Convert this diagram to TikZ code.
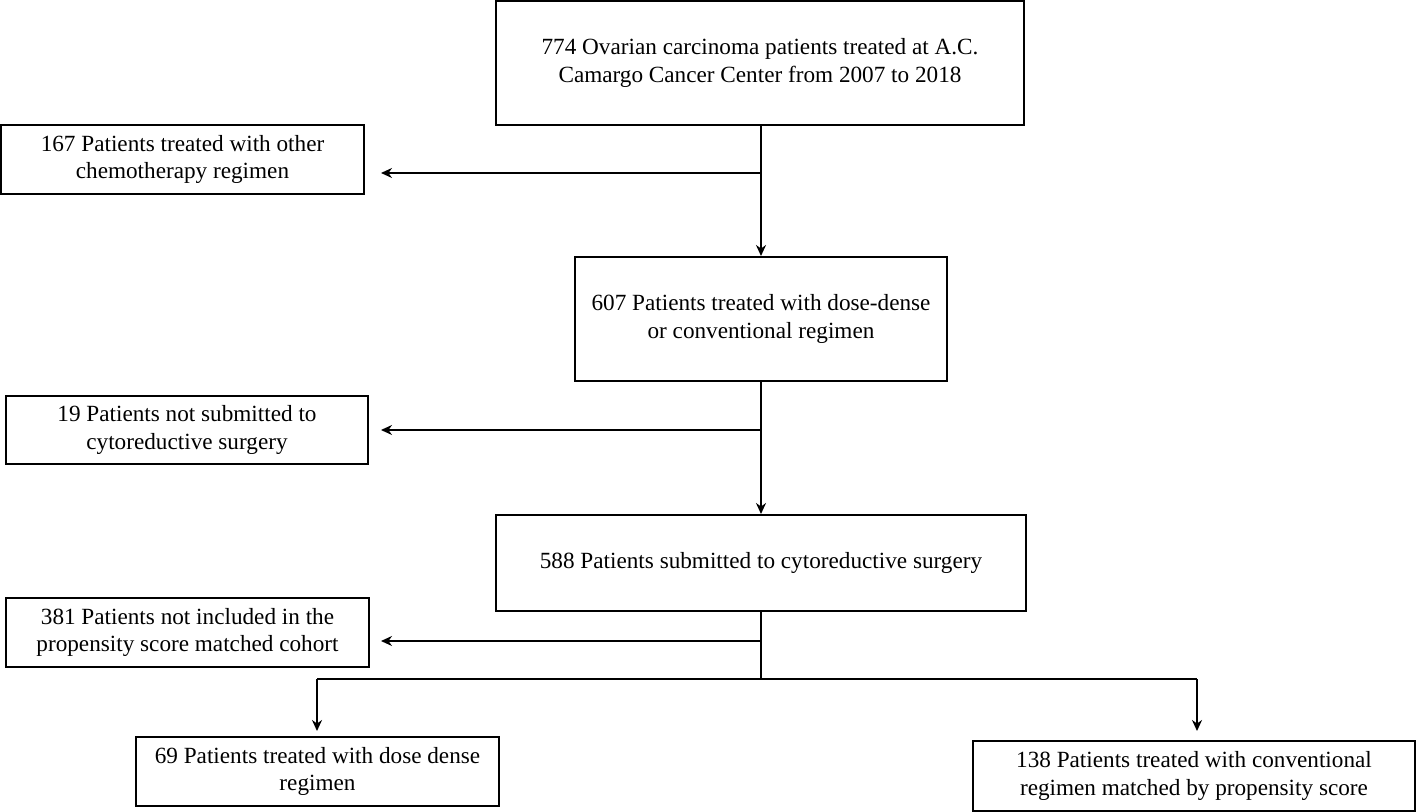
\documentclass[tikz,border=0pt]{standalone}
\usepackage{fontspec}
\setmainfont{Liberation Serif}
\usetikzlibrary{arrows.meta}

\tikzset{
    box/.style={draw, line width=1pt, align=center, inner sep=0pt,
        font=\fontsize{11.6pt}{13.8pt}\selectfont},
    arr/.style={line width=1pt, -{Stealth[length=5.5pt, width=5pt]}}
}

\begin{document}
\begin{tikzpicture}[x=0.5pt, y=-0.5pt]
        \useasboundingbox (0,0) rectangle (1418,812);

        % main column
        \node[box, minimum width=264pt, minimum height=62pt] (start) at (760,63)
            {774 Ovarian carcinoma patients treated at A.C.\\Camargo Cancer Center from 2007 to 2018};
        \node[box, minimum width=186pt, minimum height=62pt] (dd) at (761,319)
            {607 Patients treated with dose-dense\\or conventional regimen};
        \node[box, minimum width=265pt, minimum height=48pt] (surg) at (761,563)
            {588 Patients submitted to cytoreductive surgery};

        % excluded
        \node[box, minimum width=181.5pt, minimum height=34.5pt] (other) at (182.5,159.5)
            {167 Patients treated with other\\chemotherapy regimen};
        \node[box, minimum width=181pt, minimum height=34pt] (nosurg) at (187,430)
            {19 Patients not submitted to\\cytoreductive surgery};
        \node[box, minimum width=181.5pt, minimum height=34.5pt] (notinc) at (187.5,632.5)
            {381 Patients not included in the\\propensity score matched cohort};

        % groups
        \node[box, minimum width=181.5pt, minimum height=34.5pt] (ddreg) at (317.5,771.5)
            {69 Patients treated with dose dense\\regimen};
        \node[box, minimum width=221pt, minimum height=35pt] (conv) at (1194,776)
            {138 Patients treated with conventional\\regimen matched by propensity score};

        \coordinate (s1) at (761,173);
        \coordinate (s2) at (761,430);
        \coordinate (s3) at (761,641);
        \coordinate (split) at (761,679);
        \coordinate (gl) at (317,679);
        \coordinate (gr) at (1197,679);

        \draw[arr] (start.south -| s1) -- (dd.north -| s1);
        \draw[arr] (dd.south -| s2) -- (surg.north -| s2);
        \draw[arr] (s1) -- ([xshift=8pt]other.east |- s1);
        \draw[arr] (s2) -- ([xshift=6pt]nosurg.east |- s2);
        \draw[arr] (s3) -- ([xshift=5.5pt]notinc.east |- s3);

        \draw[line width=1pt] (surg.south -| split) -- (split);
        \draw[line width=1pt] (gl) -- (gr);
        \draw[arr] (gl) -- ([yshift=2.5pt]ddreg.north -| gl);
        \draw[arr] (gr) -- ([yshift=4.5pt]conv.north -| gr);
    \end{tikzpicture}
\end{document}
